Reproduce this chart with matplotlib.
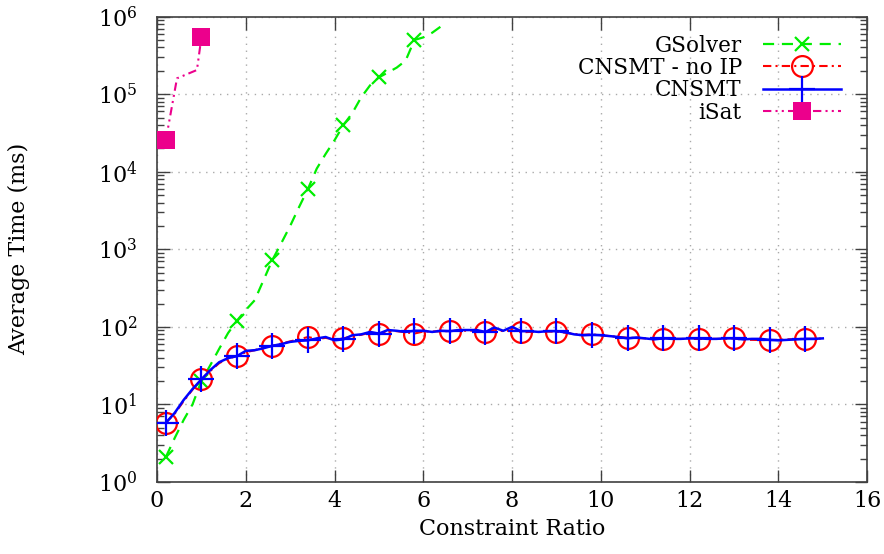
import matplotlib
matplotlib.use("Agg")
import matplotlib.pyplot as plt
from matplotlib.ticker import FixedLocator, NullFormatter
import numpy as np

plt.rcParams['font.family'] = ['DejaVu Serif']
plt.rcParams['mathtext.fontset'] = 'dejavuserif'

# ---- data ----
ratio = [round(0.2 * i, 1) for i in range(1, 76)]  # 0.2 .. 15.0

gsolver_x = [0.2, 0.4, 0.6, 0.8, 1.0, 1.2, 1.4, 1.6, 1.8, 2.0, 2.2, 2.4, 2.6, 2.8,
             3.0, 3.2, 3.4, 3.6, 3.8, 4.0, 4.2, 4.4, 4.6, 4.8, 5.0, 5.2, 5.4, 5.6,
             5.8, 6.0, 6.2, 6.4]
gsolver_y = [2.1, 3.7, 6.3, 10, 20, 32, 52, 83, 120, 165, 220, 400, 730, 1200,
             2000, 3500, 6000, 11000, 17000, 25500, 40000, 57000, 91000, 130000,
             165000, 190000, 220000, 270000, 500000, 540000, 620000, 750000]

cnsmt_y = [5.8, 7.8, 11.4, 15.8, 21, 27.7, 35, 39.5, 42, 49, 50, 53, 57, 60,
           64, 66, 67, 71, 74, 67, 69, 78, 80, 86, 82, 91, 89, 86, 89, 89,
           86, 89, 88, 91, 91, 91, 86, 98, 89, 100, 88, 88, 86, 88, 88, 85,
           80, 78, 79, 78, 76, 74, 71, 73, 71, 69, 71, 70, 70, 71, 71, 70,
           70, 71, 71, 69, 70, 70, 68, 67, 68, 69, 70, 70, 71]

noip_y = [5.8, 7.6, 11.0, 15.5, 21.2, 27, 34, 39, 42, 47, 50, 54, 57, 61,
          65, 69, 74, 70, 72, 69, 71, 76, 79, 84, 80, 87, 88, 85, 82, 87,
          87, 88, 88, 90, 89, 90, 85, 92, 88, 90, 85, 86, 86, 87, 86.5, 84,
          81, 79, 80, 78, 76, 74, 72.5, 72, 71, 70, 69.7, 70, 70, 70, 69.7, 70,
          70, 70, 71, 68, 68, 67.6, 67.6, 68, 69, 69.7, 70, 70, 71]

isat_x = [0.2, 0.45, 0.9, 1.0]
isat_y = [25700, 160000, 205000, 540000]

xticks = [0, 2, 4, 6, 8, 10, 12, 14, 16]
yticks = [1, 10, 100, 1000, 10000, 100000, 1000000]

# ---- figure ----
fig = plt.figure(figsize=(8.84, 5.54), dpi=100)
ax = fig.add_axes([0.1776, 0.130, 0.8034, 0.840])

ax.plot(gsolver_x, gsolver_y, color='#00ee00', lw=1.6, ls=(0, (5, 3.5)),
        marker='x', ms=10, mew=1.6, markevery=4, label='GSolver', zorder=3)
ax.plot(ratio, noip_y, color='#ff0000', lw=1.5, ls=(0, (4, 2, 1, 2)),
        marker='o', ms=15, mew=1.6, mfc='none', markevery=4,
        label='CNSMT - no IP', zorder=4)
ax.plot(ratio, cnsmt_y, color='#0000ff', lw=1.8, ls='-',
        marker='+', ms=19, mew=1.6, markevery=4, label='CNSMT', zorder=5)
ax.plot(isat_x, isat_y, color='#ec008c', lw=1.5, ls=(0, (4, 2, 1, 2, 1, 2)),
        marker='s', ms=13, mew=0, markevery=[0, 3], label='iSat', zorder=3)

ax.set_yscale('log')
ax.set_xlim(0, 16)
ax.set_ylim(1, 1e6)
ax.xaxis.set_major_locator(FixedLocator(xticks))
ax.yaxis.set_major_locator(FixedLocator(yticks))
minor = [m * 10 ** e for e in range(0, 6) for m in range(2, 10)]
ax.yaxis.set_minor_locator(FixedLocator(minor))
ax.yaxis.set_minor_formatter(NullFormatter())

ax.grid(True, which='major', ls=(0, (1, 4)), color='#aaaaaa', lw=1.0)
ax.tick_params(which='both', direction='in', top=True, right=True,
               labelsize=16, color='#404040')
ax.tick_params(which='major', length=9, width=1)
ax.tick_params(axis='x', which='major', pad=6)
ax.tick_params(axis='y', which='major', pad=14)
ax.tick_params(which='minor', length=5, width=1)
for s in ax.spines.values():
    s.set_color('#404040')
    s.set_linewidth(1.2)

ax.set_xlabel('Constraint Ratio', fontsize=16, labelpad=4)
ax.set_ylabel('Average Time (ms)', fontsize=16)
ax.yaxis.set_label_coords(-0.178, 0.5)

leg = ax.legend(loc='upper right', markerfirst=False, frameon=False,
                fontsize=15.5, handlelength=3.6, handletextpad=1.0,
                labelspacing=0.02, borderaxespad=0.0,
                bbox_to_anchor=(0.975, 0.98))

fig.savefig('out.png', dpi=100)
